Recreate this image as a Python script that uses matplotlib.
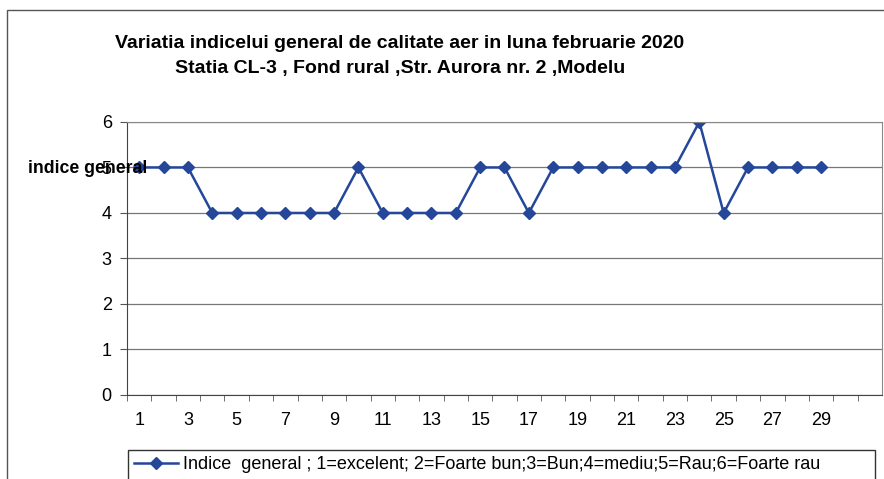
import matplotlib.pyplot as plt
from matplotlib.patches import Rectangle

plt.rcParams['font.family'] = ['Liberation Sans', 'DejaVu Sans']

days = list(range(1, 30))
indice = [5, 5, 5, 4, 4, 4, 4, 4, 4, 5, 4, 4, 4, 4, 5, 5, 4, 5, 5, 5,
          5, 5, 5, 6, 4, 5, 5, 5, 5]
xlabels = [str(d) for d in range(1, 30, 2)]
yticks = [0, 1, 2, 3, 4, 5, 6]

title = ("Variatia indicelui general de calitate aer in luna februarie 2020\n"
         "Statia CL-3 , Fond rural ,Str. Aurora nr. 2 ,Modelu")
legend_label = ("Indice  general ; 1=excelent; 2=Foarte bun;3=Bun;4=mediu;"
                "5=Rau;6=Foarte rau")
blue = "#24479a"

fig = plt.figure(figsize=(8.84, 4.79), dpi=100)
ax = fig.add_axes([0.1437, 0.1754, 0.854, 0.57])

# chart border (top + left, the rest is cropped)
fig.patches.append(Rectangle((7 / 884, -0.1), 1.1, 1 - 10 / 479 + 0.1,
                             transform=fig.transFigure, fill=False,
                             edgecolor="#555555", linewidth=1.0))

line, = ax.plot(days, indice, color=blue, linewidth=1.8, marker="D",
                markersize=6, markerfacecolor=blue, markeredgecolor=blue,
                label=legend_label)

ax.set_xlim(0.5, 31.5)
ax.set_ylim(0, 6)
ax.set_yticks(yticks)
ax.set_yticklabels([str(v) for v in yticks], fontsize=13)
ax.set_xticks(range(1, 30, 2))
ax.set_xticklabels(xlabels, fontsize=13)
ax.set_xticks([d + 0.5 for d in range(0, 31)], minor=True)
ax.tick_params(axis="x", which="major", length=0, pad=12)
ax.tick_params(axis="x", which="minor", length=4, direction="out",
               color="#555555")
ax.tick_params(axis="y", length=5, direction="out", color="#555555", pad=6)

ax.grid(axis="y", color="#777777", linewidth=0.9)
ax.set_axisbelow(True)
for side in ["top", "right"]:
    ax.spines[side].set_color("#888888")
for side in ["left", "bottom"]:
    ax.spines[side].set_color("#444444")

fig.text(400 / 884, 1 - 56 / 479, title, ha="center", va="center",
         fontsize=14, fontweight="bold", linespacing=1.65)
fig.text(28 / 884, 1 - 168 / 479, "indice general", ha="left", va="center",
         fontsize=12.7, fontweight="bold")

fig.legend(handles=[line], loc="upper left",
           bbox_to_anchor=(128 / 884, 1 - 450 / 479, 747 / 884, 0.0),
           mode="expand", fontsize=13, frameon=True, fancybox=False,
           edgecolor="#333333", framealpha=1, borderpad=0.35,
           handlelength=2.4, handletextpad=0.3, borderaxespad=0)

fig.savefig("out.png", dpi=100)
